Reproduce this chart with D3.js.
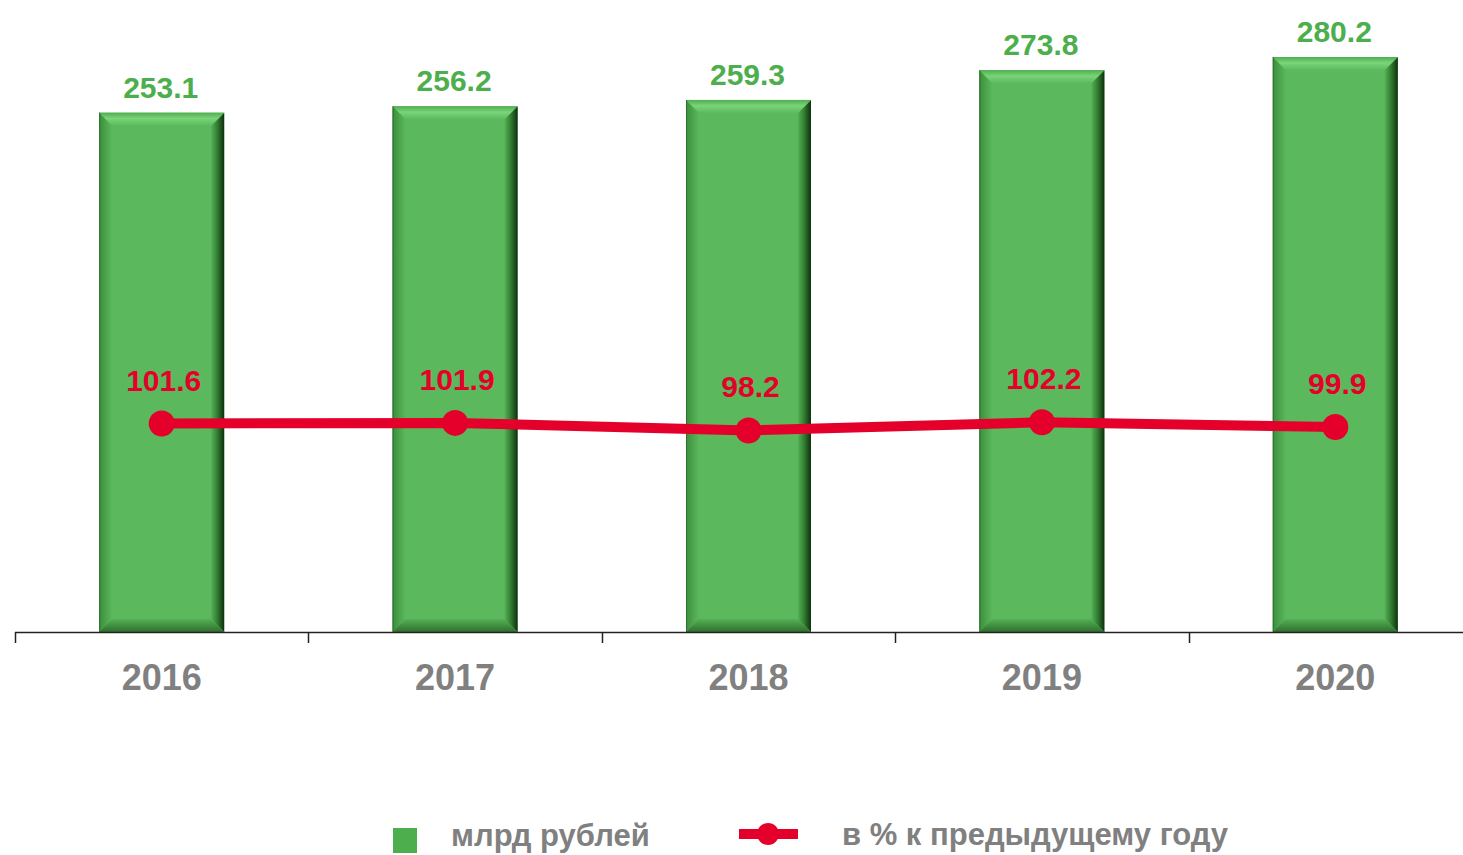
<!DOCTYPE html>
<html><head><meta charset="utf-8">
<script src="https://cdn.jsdelivr.net/npm/d3@7"></script>
<style>body{margin:0;background:#fff;}svg{display:block;font-family:"Liberation Sans",Arial,sans-serif;}</style>
</head><body>
<svg id="c" width="1463" height="855"></svg>
<script>
const years = ["2016","2017","2018","2019","2020"];
const valuesBn = [253.1, 256.2, 259.3, 273.8, 280.2];
const pctPrev = [101.6, 101.9, 98.2, 102.2, 99.9];
const legendLabels = ["млрд рублей", "в % к предыдущему году"];

const svg = d3.select("#c");
const W = 1463;
const x = d3.scaleBand().domain(years).range([15, 1482]).paddingInner(0.574).paddingOuter(0.287);
const y = d3.scaleLinear().domain([0, 300]).range([632, 16.4]);
const band = (1482-15)/5;

const defs = svg.append("defs");
function lg(id, x1,y1,x2,y2, stops){
  const g = defs.append("linearGradient").attr("id",id).attr("x1",x1).attr("y1",y1).attr("x2",x2).attr("y2",y2);
  stops.forEach(s=>g.append("stop").attr("offset",s[0]).attr("stop-color",s[1]));
}
lg("gTop",0,0,0,1,[[0,"#4fae4f"],[0.45,"#7ad47a"],[1,"#5cba5c"]]);
lg("gRight",0,0,1,0,[[0,"#55b055"],[0.5,"#2f7a2f"],[1,"#0f2f0f"]]);
lg("gLeft",0,0,1,0,[[0,"#3c8e3c"],[1,"#5bb85b"]]);
lg("gBot",0,0,0,1,[[0,"#55b055"],[1,"#2f6e2f"]]);

const bw = x.bandwidth();
const bev = 13;
const bars = svg.append("g");
years.forEach((yr,i)=>{
  const x0 = x(yr), x1 = x0+bw, y0 = y(valuesBn[i]), y1 = y(0);
  const g = bars.append("g");
  g.append("rect").attr("x",x0).attr("y",y0).attr("width",bw).attr("height",y1-y0).attr("fill","#5cb85c");
  g.append("polygon").attr("points",[[x0,y0],[x0+bev,y0+bev],[x0+bev,y1-bev],[x0,y1]].join(" ")).attr("fill","url(#gLeft)");
  g.append("polygon").attr("points",[[x1,y0],[x1-bev,y0+bev],[x1-bev,y1-bev],[x1,y1]].join(" ")).attr("fill","url(#gRight)");
  g.append("polygon").attr("points",[[x0,y1],[x0+bev,y1-bev],[x1-bev,y1-bev],[x1,y1]].join(" ")).attr("fill","url(#gBot)");
  g.append("polygon").attr("points",[[x0,y0],[x1,y0],[x1-bev,y0+bev],[x0+bev,y0+bev]].join(" ")).attr("fill","url(#gTop)");
  g.append("line").attr("x1",x0+0.5).attr("x2",x0+0.5).attr("y1",y0).attr("y2",y1).attr("stroke","#2f6e2f").attr("stroke-width",1);
});

// axis
const ax = svg.append("g");
ax.append("line").attr("x1",15).attr("x2",W).attr("y1",632.5).attr("y2",632.5).attr("stroke","#222").attr("stroke-width",1.5);
for(let i=0;i<5;i++){
  const tx = Math.round(15+i*band)+0.5;
  ax.append("line").attr("x1",tx).attr("x2",tx).attr("y1",632).attr("y2",643).attr("stroke","#222").attr("stroke-width",1.5);
}
svg.append("g").selectAll("text").data(years).join("text")
  .attr("x",d=>x(d)+bw/2).attr("y",690).attr("text-anchor","middle")
  .attr("font-size",36).attr("font-weight","bold").attr("fill","#808080").text(d=>d);

// bar labels
svg.append("g").selectAll("text").data(valuesBn).join("text")
  .attr("x",(d,i)=>x(years[i])+bw/2-1).attr("y",d=>y(d)-15).attr("text-anchor","middle")
  .attr("font-size",30).attr("font-weight","bold").attr("fill","#4cae4c").text(d=>d.toFixed(1));

// line
const cx = (i)=>x(years[i])+bw/2;
const line = d3.line().x((d,i)=>cx(i)).y(d=>y(d));
svg.append("path").datum(pctPrev).attr("d",line).attr("fill","none").attr("stroke","#e4002b").attr("stroke-width",10);
svg.append("g").selectAll("circle").data(pctPrev).join("circle")
  .attr("cx",(d,i)=>cx(i)).attr("cy",d=>y(d)).attr("r",13).attr("fill","#e4002b");
svg.append("g").selectAll("text").data(pctPrev).join("text")
  .attr("x",(d,i)=>cx(i)+2).attr("y",d=>y(d)-33).attr("text-anchor","middle")
  .attr("font-size",30).attr("font-weight","bold").attr("fill","#e4002b").text(d=>d.toFixed(1));

// legend
const lgd = svg.append("g");
lgd.append("rect").attr("x",393).attr("y",828).attr("width",24).attr("height",25).attr("fill","#4cae4c");
lgd.append("text").attr("x",451).attr("y",846).attr("font-size",31).attr("font-weight","bold").attr("fill","#808080").text(legendLabels[0]);
lgd.append("line").attr("x1",739).attr("x2",798).attr("y1",834).attr("y2",834).attr("stroke","#e4002b").attr("stroke-width",10);
lgd.append("circle").attr("cx",768).attr("cy",834).attr("r",11).attr("fill","#e4002b");
lgd.append("text").attr("x",842).attr("y",845).attr("font-size",31).attr("font-weight","bold").attr("fill","#808080").text(legendLabels[1]);
</script>
</body></html>
